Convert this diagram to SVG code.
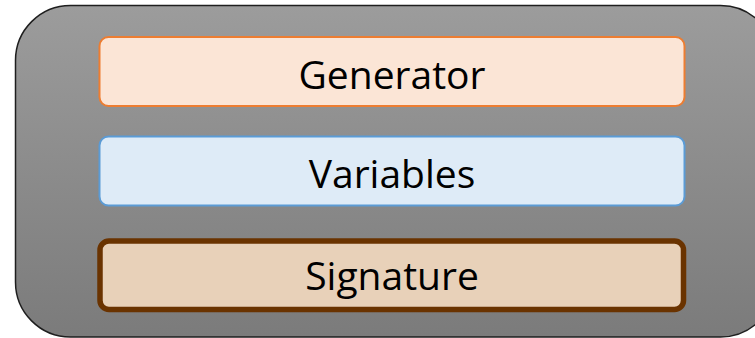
<svg xmlns="http://www.w3.org/2000/svg" width="755" height="338" viewBox="0 0 755 338">
  <defs>
    <linearGradient id="panelFill" x1="0" y1="0" x2="0" y2="1">
      <stop offset="0" stop-color="#9c9c9c"/>
      <stop offset="1" stop-color="#7b7b7b"/>
    </linearGradient>
  </defs>
  <style>
    .label { font-family: "Open Sans", "Liberation Sans", sans-serif; font-size: 39px; fill: #000; text-anchor: middle; }
  </style>
  <rect width="755" height="338" fill="#ffffff"/>
  <!-- outer container panel -->
  <g id="container">
    <rect x="15.5" y="5.5" width="760" height="331.5" rx="55" ry="55" fill="url(#panelFill)" stroke="#1e1e1e" stroke-width="1.5"/>
  </g>
  <g id="generator">
    <rect x="99.5" y="37" width="585" height="69" rx="9" ry="9" fill="#fbe5d6" stroke="#ed7d31" stroke-width="2"/>
    <text class="label" x="392" y="88.5">Generator</text>
  </g>
  <g id="variables">
    <rect x="99.5" y="136.5" width="585" height="69" rx="9" ry="9" fill="#deebf7" stroke="#5b9bd5" stroke-width="2"/>
    <text class="label" x="392" y="188">Variables</text>
  </g>
  <g id="signature">
    <rect x="100" y="241" width="583.5" height="68.5" rx="9" ry="9" fill="#e8d1b9" stroke="#6a3300" stroke-width="5.5"/>
    <text class="label" x="392" y="290">Signature</text>
  </g>
  <g id="connectors"/>
</svg>
